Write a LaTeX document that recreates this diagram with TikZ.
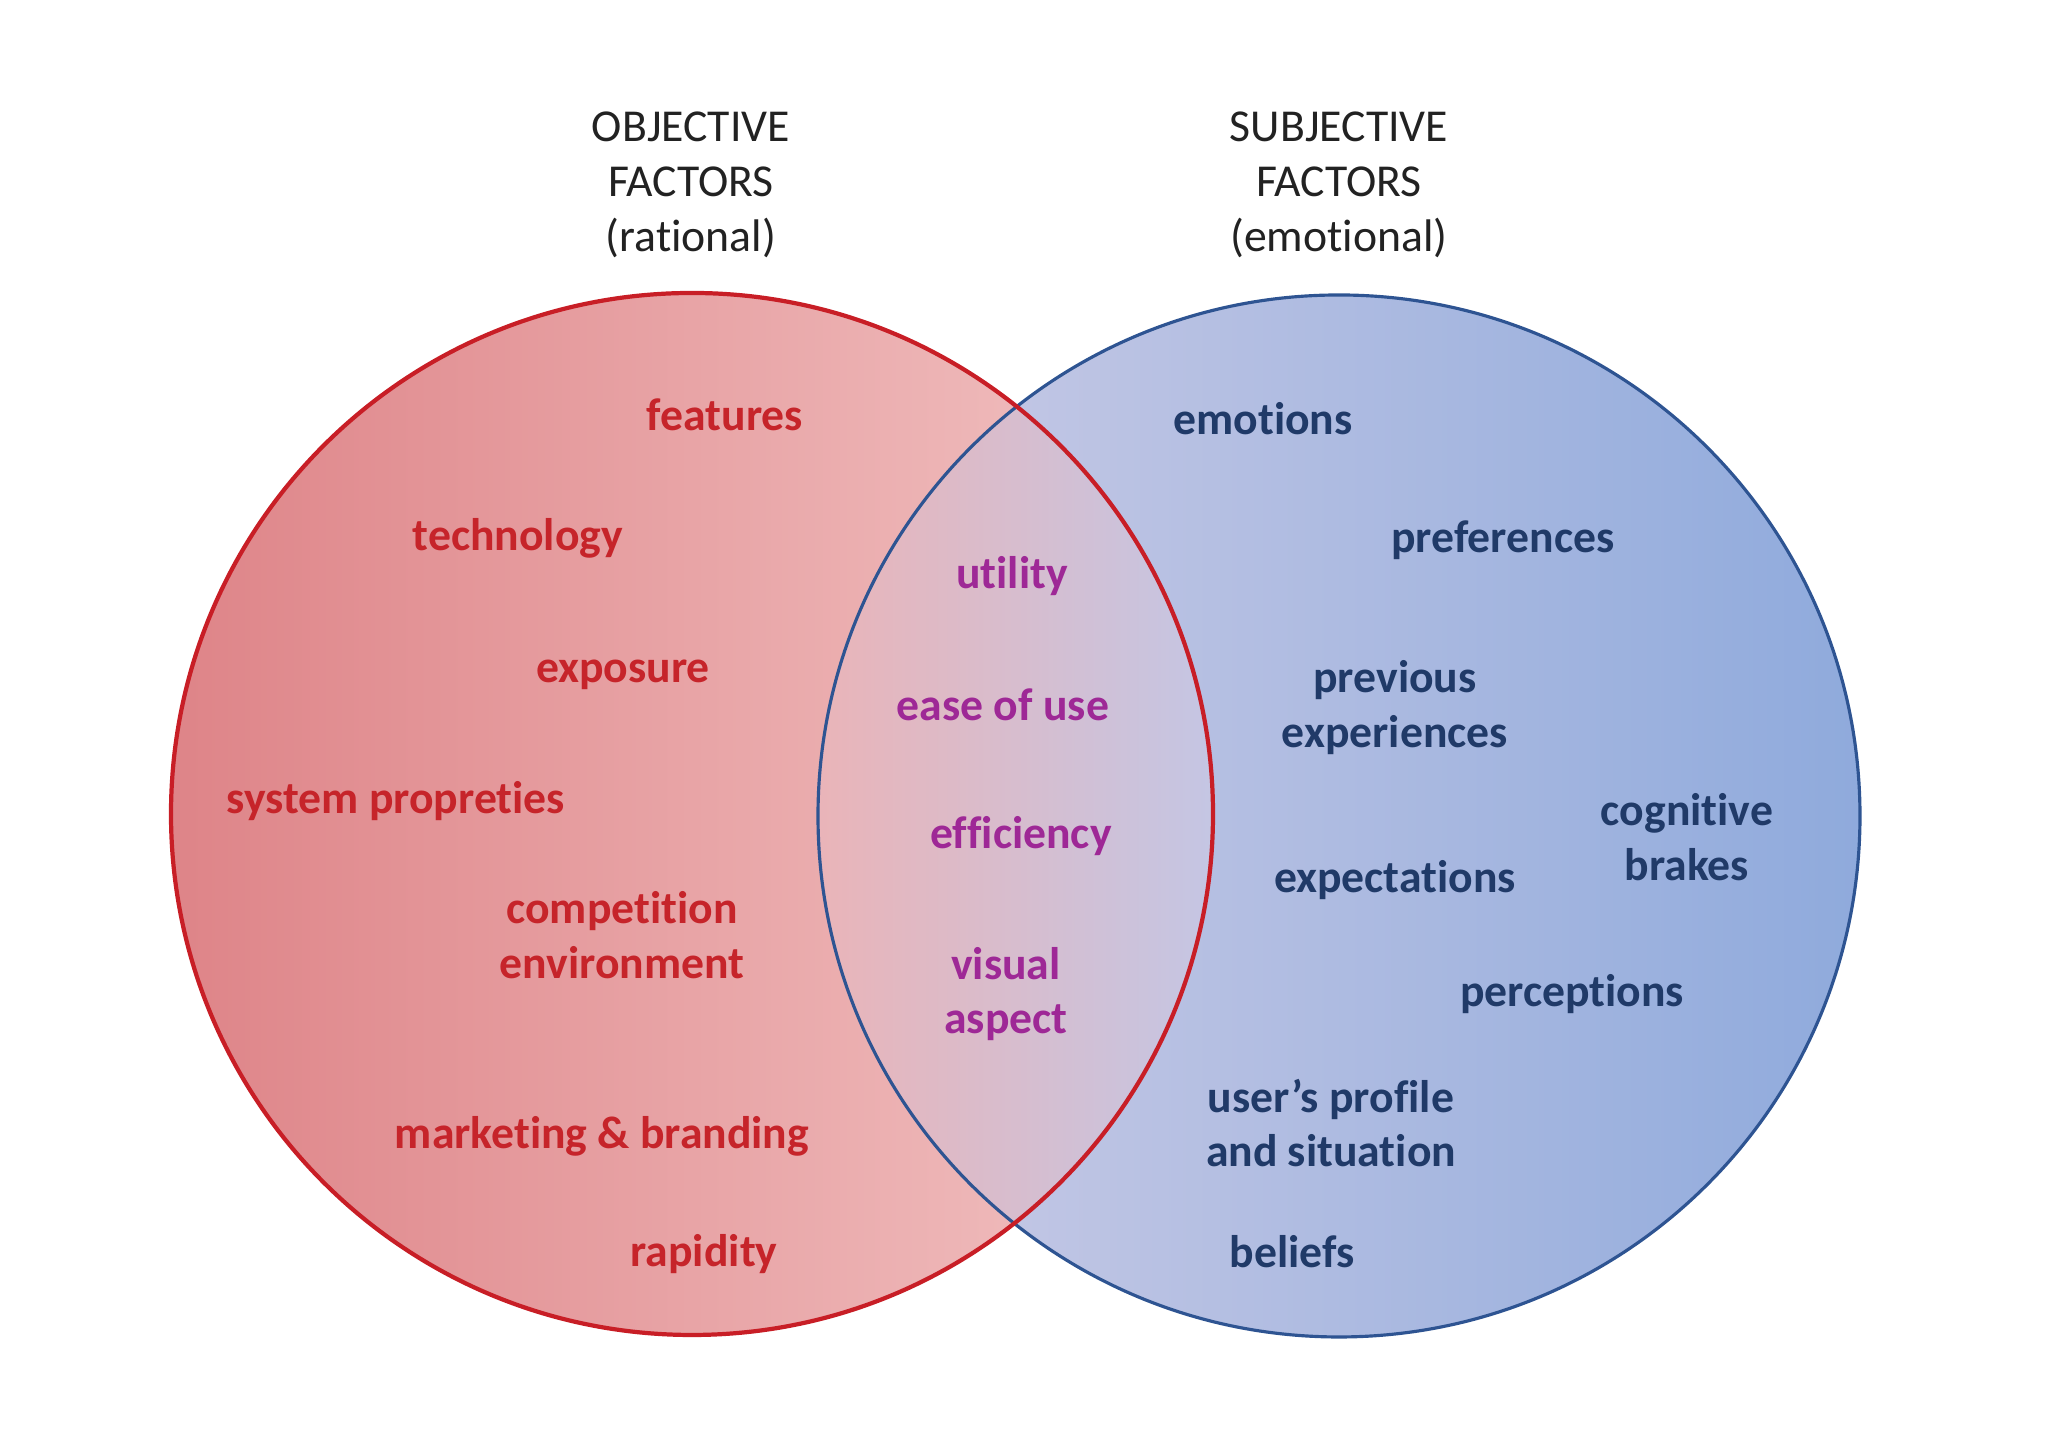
\documentclass[tikz,border=0pt]{standalone}
\usepackage{fontspec}
\setmainfont{Carlito}[Ligatures=NoCommon, RawFeature={-calt;-clig;-dlig}]
\usepackage{xcolor}
\usetikzlibrary{positioning}

% colours
\definecolor{objred}{RGB}{198,36,42}
\definecolor{subjblue}{RGB}{32,58,104}
\definecolor{bothpurple}{RGB}{158,40,150}
\definecolor{titlegray}{RGB}{34,34,34}
\definecolor{redline}{RGB}{200,30,38}
\definecolor{blueline}{RGB}{46,84,146}
\definecolor{redfillL}{RGB}{222,132,136}
\definecolor{redfillR}{RGB}{242,196,196}
\definecolor{bluefillL}{RGB}{204,204,230}
\definecolor{bluefillR}{RGB}{143,170,220}
\definecolor{midfillL}{RGB}{234,180,184}
\definecolor{midfillR}{RGB}{196,198,228}

\newcommand{\venrad}{5.21}

\begin{document}
\begin{tikzpicture}[
        every node/.style={font=\fontsize{13}{15.6}\selectfont, align=center},
        heading/.style={text=titlegray},
        objective/.style={font=\fontsize{13}{15.6}\selectfont\bfseries, text=objred},
        subjective/.style={font=\fontsize{13}{15.6}\selectfont\bfseries, text=subjblue},
        shared/.style={font=\fontsize{13}{15.6}\selectfont\bfseries, text=bothpurple},
        redring/.style={draw=redline, line width=1.2pt},
        bluering/.style={draw=blueline, line width=0.9pt}
    ]
    \useasboundingbox (0,0) rectangle (20.48,14.47);

    % --- Circle centres ---
    \coordinate (lc) at (6.92,6.33);
    \coordinate (rc) at (13.39,6.31);

    % --- Fills ---
    \shade[left color=redfillL, right color=redfillR] (lc) circle (\venrad);
    \shade[left color=bluefillL, right color=bluefillR] (rc) circle (\venrad);
    \begin{scope}
        \clip (lc) circle (\venrad);
        \clip (rc) circle (\venrad);
        \shade[left color=midfillL, right color=midfillR] (8.15,0) rectangle (12.16,14.47);
    \end{scope}

    % --- Outlines (red on top) ---
    \draw[bluering] (rc) circle (\venrad);
    \draw[redring] (lc) circle (\venrad);

    % --- Headings ---
    \node[heading] (objtitle) at (6.91,12.62) {OBJECTIVE\\FACTORS\\(rational)};
    \node[heading] (subjtitle) at (13.39,12.62) {SUBJECTIVE\\FACTORS\\(emotional)};

    % --- Objective factors ---
    \node[objective] (features) at (7.25,10.32) {features};
    \node[objective] (technology) at (5.18,9.09) {technology};
    \node[objective] (exposure) at (6.23,7.72) {exposure};
    \node[objective] (system) at (3.96,6.46) {system propreties};
    \node[objective] (competition) at (6.22,5.12) {competition\\environment};
    \node[objective] (marketing) at (6.02,3.11) {marketing \& branding};
    \node[objective] (rapidity) at (7.04,1.93) {rapidity};

    % --- Shared factors ---
    \node[shared] (utility) at (10.12,8.71) {utility};
    \node[shared] (ease) at (10.03,7.42) {ease of use};
    \node[shared] (efficiency) at (10.21,6.11) {efficiency};
    \node[shared] (visual) at (10.06,4.53) {visual\\aspect};

    % --- Subjective factors ---
    \node[subjective] (emotions) at (12.63,10.28) {emotions};
    \node[subjective] (preferences) at (15.03,9.07) {preferences};
    \node[subjective] (previous) at (13.95,7.39) {previous\\experiences};
    \node[subjective] (cognitive) at (16.87,6.10) {cognitive\\brakes};
    \node[subjective] (expectations) at (13.95,5.67) {expectations};
    \node[subjective] (perceptions) at (15.72,4.53) {perceptions};
    \node[subjective] (profile) at (13.31,3.24) {user’s profile\\and situation};
    \node[subjective] (beliefs) at (12.92,1.95) {beliefs};

\end{tikzpicture}
\end{document}
